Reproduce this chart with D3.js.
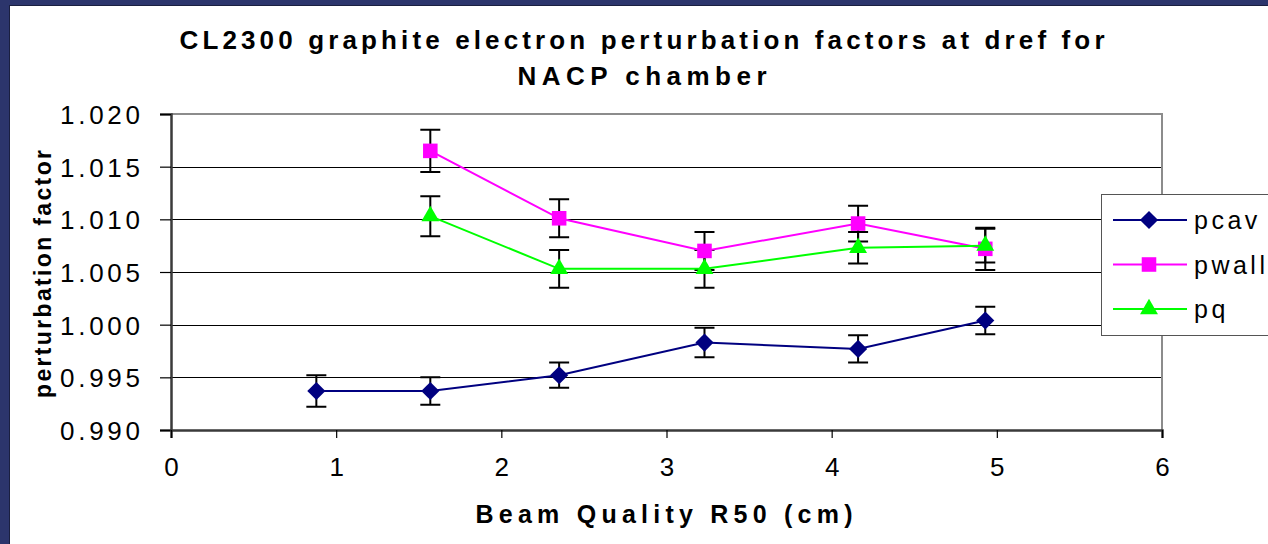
<!DOCTYPE html>
<html>
<head>
	<meta charset="utf-8">
	<script src="https://cdnjs.cloudflare.com/ajax/libs/d3/7.8.5/d3.min.js"></script>
	<style>
	body { margin: 0; background: #2c356c; }
	svg { display: block; font-family: Arial, "Liberation Sans", sans-serif; }
	.line { fill: none; stroke-width: 2px; }
	.err { stroke: #000; stroke-width: 2px; fill: none; }
	</style>
</head>
<body>
	<svg width="1268" height="544"></svg>
	<script>
	//data
	let pcavX = [0.88, 1.57, 2.35, 3.23, 4.16, 4.93];
	let pcavY = [0.9937, 0.9937, 0.9952, 0.9983, 0.9977, 1.0004];
	let pcavErr = [0.0015, 0.0013, 0.0012, 0.0014, 0.0013, 0.0013];

	let pwallX = [1.57, 2.35, 3.23, 4.16, 4.93];
	let pwallY = [1.0165, 1.0101, 1.0070, 1.0096, 1.0072];
	let pwallErr = [0.0020, 0.0018, 0.0018, 0.0017, 0.0020];

	let pqX = [1.57, 2.35, 3.23, 4.16, 4.93];
	let pqY = [1.0103, 1.0053, 1.0053, 1.0073, 1.0075];
	let pqErr = [0.0019, 0.0018, 0.0018, 0.0015, 0.0016];

	let xTicks = [0, 1, 2, 3, 4, 5, 6];
	let yTicks = [0.990, 0.995, 1.000, 1.005, 1.010, 1.015, 1.020];

	let svg = d3.select("svg");

	//white panel on the blue slide
	svg.append("rect")
		.attr("x", 9.5).attr("y", 5.5)
		.attr("width", 1270).attr("height", 550)
		.attr("fill", "#fff")
		.attr("stroke", "#1a1f40")
		.attr("stroke-width", 1);

	//scales
	let x = d3.scaleLinear().domain([0, 6]).range([171, 1162]),
		y = d3.scaleLinear().domain([0.990, 1.020]).range([430, 114]);

	let series = [
		{id: "pcav", color: "#000080", shape: d3.symbolDiamond2, size: 210,
			values: pcavX.map(function(v, i) { return {x: v, y: pcavY[i], e: pcavErr[i]}; })},
		{id: "pwall", color: "#ff00ff", shape: d3.symbolSquare2, size: 270,
			values: pwallX.map(function(v, i) { return {x: v, y: pwallY[i], e: pwallErr[i]}; })},
		{id: "pq", color: "#00ff00", shape: d3.symbolTriangle2, size: 230,
			values: pqX.map(function(v, i) { return {x: v, y: pqY[i], e: pqErr[i]}; })}
	];

	//gridlines
	svg.append("g")
		.selectAll("line")
		.data(yTicks.slice(1, -1))
		.enter().append("line")
		.attr("x1", x(0)).attr("x2", x(6))
		.attr("y1", function(d) { return Math.round(y(d)) + 0.5; })
		.attr("y2", function(d) { return Math.round(y(d)) + 0.5; })
		.attr("stroke", "#000").attr("stroke-width", 1);

	//plot border top/right
	svg.append("path")
		.attr("d", "M" + x(0) + "," + (y(1.020)) + "H" + x(6) + "V" + y(0.990))
		.attr("fill", "none").attr("stroke", "#8c8c8c").attr("stroke-width", 2);

	//y axis
	let yAxis = svg.append("g")
		.attr("transform", "translate(" + x(0) + ",0)")
		.call(d3.axisLeft(y).tickValues(yTicks).tickSize(11).tickPadding(20).tickFormat(d3.format(".3f")));
	yAxis.select(".domain").attr("stroke", "#3a3a3a").attr("stroke-width", 2.5);
	yAxis.selectAll(".tick line").attr("stroke", "#000").attr("stroke-width", 1.2);
	yAxis.selectAll(".tick text")
		.attr("fill", "#000")
		.style("font-size", "26px")
		.attr("dy", "0.36em")
		.attr("textLength", 80);

	//x axis
	let xAxis = svg.append("g")
		.attr("transform", "translate(0," + y(0.990) + ")")
		.call(d3.axisBottom(x).tickValues(xTicks).tickSize(8).tickPadding(20).tickFormat(d3.format("d")));
	xAxis.select(".domain").attr("stroke", "#3a3a3a").attr("stroke-width", 2.5);
	xAxis.selectAll(".tick line").attr("stroke", "#000").attr("stroke-width", 1.2);
	xAxis.selectAll(".tick text")
		.attr("fill", "#000")
		.style("font-size", "26px");

	//error bars
	let errG = svg.append("g");
	series.forEach(function(s) {
		errG.selectAll(".eb-" + s.id)
			.data(s.values)
			.enter().append("path")
			.attr("class", "err")
			.attr("d", function(d) {
				let cx = x(d.x), t = y(d.y + d.e), b = y(d.y - d.e);
				return "M" + cx + "," + t + "V" + b +
					"M" + (cx - 10) + "," + t + "H" + (cx + 10) +
					"M" + (cx - 10) + "," + b + "H" + (cx + 10);
			});
	});

	//lines and markers
	let line = d3.line()
		.x(function(d) { return x(d.x); })
		.y(function(d) { return y(d.y); });

	series.forEach(function(s) {
		let g = svg.append("g").attr("class", "series");
		g.append("path")
			.attr("class", "line")
			.attr("d", line(s.values))
			.attr("stroke", s.color);
		g.selectAll(".pt")
			.data(s.values)
			.enter().append("path")
			.attr("d", d3.symbol().type(s.shape).size(s.size))
			.attr("transform", function(d) { return "translate(" + x(d.x) + "," + y(d.y) + ")"; })
			.attr("fill", s.color);
	});

	//title
	let title = svg.append("g").style("font-weight", "bold").style("font-size", "26px")
		.attr("text-anchor", "middle").attr("fill", "#000");
	title.append("text")
		.attr("x", 642).attr("y", 49)
		.attr("textLength", 925)
		.text("CL2300 graphite electron perturbation factors at dref for");
	title.append("text")
		.attr("x", 642).attr("y", 85)
		.attr("textLength", 249)
		.text("NACP chamber");

	//axis titles
	svg.append("text")
		.attr("x", 664).attr("y", 523)
		.attr("text-anchor", "middle")
		.style("font-weight", "bold").style("font-size", "25px")
		.attr("textLength", 377)
		.text("Beam Quality R50 (cm)");

	svg.append("text")
		.attr("transform", "translate(51,274) rotate(-90)")
		.attr("text-anchor", "middle")
		.style("font-weight", "bold").style("font-size", "23px")
		.attr("textLength", 248)
		.text("perturbation factor");

	//legend
	let legend = svg.append("g");
	legend.append("rect")
		.attr("x", 1101.5).attr("y", 194.5)
		.attr("width", 200).attr("height", 141)
		.attr("fill", "#fff").attr("stroke", "#555").attr("stroke-width", 1);
	let item = legend.selectAll(".item")
		.data(series)
		.enter().append("g")
		.attr("transform", function(d, i) { return "translate(0," + (220 + i * 44.5) + ")"; });
	item.append("line")
		.attr("x1", 1113).attr("x2", 1187)
		.attr("stroke", function(d) { return d.color; }).attr("stroke-width", 2);
	item.append("path")
		.attr("d", function(d) { return d3.symbol().type(d.shape).size(d.size)(); })
		.attr("transform", "translate(1149,0)")
		.attr("fill", function(d) { return d.color; });
	item.append("text")
		.attr("x", 1194).attr("dy", "0.36em")
		.style("font-size", "25px")
		.style("letter-spacing", "3.5px")
		.text(function(d) { return d.id; });
	</script>
</body>
</html>
